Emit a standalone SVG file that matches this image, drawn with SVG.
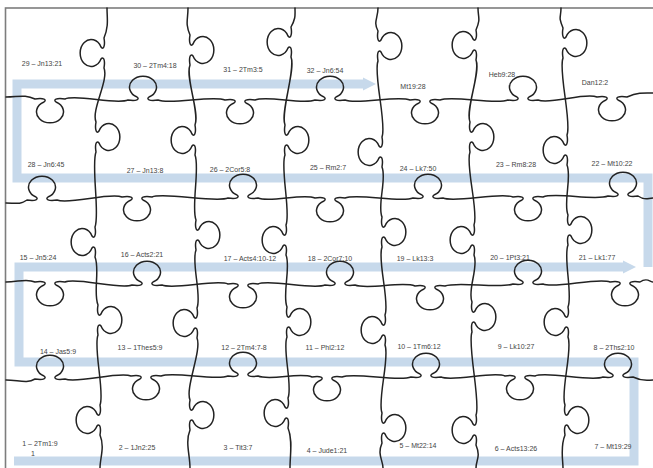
<svg xmlns="http://www.w3.org/2000/svg" width="653" height="468" viewBox="0 0 653 468">
<style>
.cut{fill:none;stroke:#222;stroke-width:1.5;stroke-linejoin:round;stroke-linecap:round}
.band{fill:none;stroke:#c7d9eb;stroke-width:9}
.lbl{font-family:"Liberation Sans",Arial,sans-serif;font-size:7px;fill:#444;text-anchor:middle}
</style>
<defs>
<marker id="ah" viewBox="0 0 10 10" refX="1" refY="5" markerWidth="1.5" markerHeight="1.9" orient="auto" markerUnits="strokeWidth">
<path d="M0,0 L10,5 L0,10 z" fill="#c7d9eb"/>
</marker>
</defs>
<rect width="653" height="468" fill="#ffffff"/>
<rect x="5.5" y="8" width="700" height="500" fill="none" stroke="#7d7d7d" stroke-width="1.6"/>
<g id="connectors">
<path class="band" d="M14,461 H634 V362 H19 V267 H624" marker-end="url(#ah)"/>
<path class="band" d="M648,267 V178 H17 V84 H364" marker-end="url(#ah)"/>
</g>
<g id="cuts">
<path class="cut" d="M6,97 C18,97 25,94 35,99 c9,-1.5 12,1 9,3 a13.5,11 0 1 0 12,0 c-3,-2 0,-4.5 9,-3 C77,94 116,105 128,100 c9,1.5 12,-1 9,-3 a13.5,11 0 1 1 12,0 c-3,2 0,4.5 9,3 C170,105 213,95 225,100 c9,-1.5 12,1 9,3 a13.5,11 0 1 0 12,0 c-3,-2 0,-4.5 9,-3 C267,95 303,105 315,100 c9,1.5 12,-1 9,-3 a13.5,11 0 1 1 12,0 c-3,2 0,4.5 9,3 C357,105 398,95 410,100 c9,-1.5 12,1 9,3 a13.5,11 0 1 0 12,0 c-3,-2 0,-4.5 9,-3 C452,95 496,105 508,100 c9,1.5 12,-1 9,-3 a13.5,11 0 1 1 12,0 c-3,2 0,4.5 9,3 C550,105 585,92 597,97 c9,-1.5 12,1 9,3 a13.5,11 0 1 0 12,0 c-3,-2 0,-4.5 9,-3 C639,92 645,93 653,93"/>
<path class="cut" d="M6,203 C15,203 20,205 27,200 c9,1.5 12,-1 9,-3 a13.5,11 0 1 1 12,0 c-3,2 0,4.5 9,3 C69,205 110,192 122,197 c9,-1.5 12,1 9,3 a13.5,11 0 1 0 12,0 c-3,-2 0,-4.5 9,-3 C164,192 216,203 228,198 c9,1.5 12,-1 9,-3 a13.5,11 0 1 1 12,0 c-3,2 0,4.5 9,3 C270,203 303,193 315,198 c9,-1.5 12,1 9,3 a13.5,11 0 1 0 12,0 c-3,-2 0,-4.5 9,-3 C357,193 401,203 413,198 c9,1.5 12,-1 9,-3 a13.5,11 0 1 1 12,0 c-3,2 0,4.5 9,3 C455,203 501,192 513,197 c9,-1.5 12,1 9,3 a13.5,11 0 1 0 12,0 c-3,-2 0,-4.5 9,-3 C555,192 596,201 608,196 c9,1.5 12,-1 9,-3 a13.5,11 0 1 1 12,0 c-3,2 0,4.5 9,3 C645,201 648,198 653,198"/>
<path class="cut" d="M6,282 C18,282 27,278 35,282 c9,-1.5 12,1 9,3 a13.5,11 0 1 0 12,0 c-3,-2 0,-4.5 9,-3 C77,277 120,290 132,285 c9,1.5 12,-1 9,-3 a13.5,11 0 1 1 12,0 c-3,2 0,4.5 9,3 C174,290 216,279 228,284 c9,-1.5 12,1 9,3 a13.5,11 0 1 0 12,0 c-3,-2 0,-4.5 9,-3 C270,279 313,290 325,285 c9,1.5 12,-1 9,-3 a13.5,11 0 1 1 12,0 c-3,2 0,4.5 9,3 C367,290 403,281 415,286 c9,-1.5 12,1 9,3 a13.5,11 0 1 0 12,0 c-3,-2 0,-4.5 9,-3 C457,281 501,289 513,284 c9,1.5 12,-1 9,-3 a13.5,11 0 1 1 12,0 c-3,2 0,4.5 9,3 C555,289 598,277 610,282 c9,-1.5 12,1 9,3 a13.5,11 0 1 0 12,0 c-3,-2 0,-4.5 9,-3 C647,277 650,282 653,282"/>
<path class="cut" d="M6,380 C18,380 27,384 35,379 c9,1.5 12,-1 9,-3 a13.5,11 0 1 1 12,0 c-3,2 0,4.5 9,3 C77,384 119,371 131,376 c9,-1.5 12,1 9,3 a13.5,11 0 1 0 12,0 c-3,-2 0,-4.5 9,-3 C173,371 216,381 228,376 c9,1.5 12,-1 9,-3 a13.5,11 0 1 1 12,0 c-3,2 0,4.5 9,3 C270,381 300,372 312,377 c9,-1.5 12,1 9,3 a13.5,11 0 1 0 12,0 c-3,-2 0,-4.5 9,-3 C354,372 399,382 411,377 c9,1.5 12,-1 9,-3 a13.5,11 0 1 1 12,0 c-3,2 0,4.5 9,3 C453,382 493,371 505,376 c9,-1.5 12,1 9,3 a13.5,11 0 1 0 12,0 c-3,-2 0,-4.5 9,-3 C547,371 591,382 603,377 c9,1.5 12,-1 9,-3 a13.5,11 0 1 1 12,0 c-3,2 0,4.5 9,3 C643,382 648,380 653,380"/>
<path class="cut" d="M107,8 C107,18 109,26 104,38 c1.5,9 -1,12 -3,9 a11,13.5 0 1 0 0,12 c2,-3 4.5,0 3,9 C109,80 91,110 96,122 c-1.5,9 1,12 3,9 a11,13.5 0 1 1 0,12 c-2,-3 -4.5,0 -3,9 C91,164 100,215 95,227 c1.5,9 -1,12 -3,9 a11,13.5 0 1 0 0,12 c2,-3 4.5,0 3,9 C100,269 93,293 98,305 c-1.5,9 1,12 3,9 a11,13.5 0 1 1 0,12 c-2,-3 -4.5,0 -3,9 C93,347 105,393 100,405 c1.5,9 -1,12 -3,9 a11,13.5 0 1 0 0,12 c2,-3 4.5,0 3,9 C105,447 100,458 100,468"/>
<path class="cut" d="M188,8 C188,20 185,23 190,35 c-1.5,9 1,12 3,9 a11,13.5 0 1 1 0,12 c-2,-3 -4.5,0 -3,9 C185,77 200,113 195,125 c1.5,9 -1,12 -3,9 a11,13.5 0 1 0 0,12 c2,-3 4.5,0 3,9 C200,167 191,208 196,220 c-1.5,9 1,12 3,9 a11,13.5 0 1 1 0,12 c-2,-3 -4.5,0 -3,9 C191,262 202,296 197,308 c1.5,9 -1,12 -3,9 a11,13.5 0 1 0 0,12 c2,-3 4.5,0 3,9 C202,350 185,388 190,400 c-1.5,9 1,12 3,9 a11,13.5 0 1 1 0,12 c-2,-3 -4.5,0 -3,9 C185,442 190,455 190,468"/>
<path class="cut" d="M295,8 C295,15 296,18 291,27 c1.5,9 -1,12 -3,9 a11,13.5 0 1 0 0,12 c2,-3 4.5,0 3,9 C296,69 280,113 285,125 c-1.5,9 1,12 3,9 a11,13.5 0 1 1 0,12 c-2,-3 -4.5,0 -3,9 C280,167 291,213 286,225 c1.5,9 -1,12 -3,9 a11,13.5 0 1 0 0,12 c2,-3 4.5,0 3,9 C291,267 282,295 287,307 c-1.5,9 1,12 3,9 a11,13.5 0 1 1 0,12 c-2,-3 -4.5,0 -3,9 C282,349 293,386 288,398 c1.5,9 -1,12 -3,9 a11,13.5 0 1 0 0,12 c2,-3 4.5,0 3,9 C293,440 290,455 290,468"/>
<path class="cut" d="M378,8 C378,18 373,22 378,31 c-1.5,9 1,12 3,9 a11,13.5 0 1 1 0,12 c-2,-3 -4.5,0 -3,9 C373,73 387,125 382,137 c1.5,9 -1,12 -3,9 a11,13.5 0 1 0 0,12 c2,-3 4.5,0 3,9 C387,179 377,205 382,217 c-1.5,9 1,12 3,9 a11,13.5 0 1 1 0,12 c-2,-3 -4.5,0 -3,9 C377,259 390,303 385,315 c1.5,9 -1,12 -3,9 a11,13.5 0 1 0 0,12 c2,-3 4.5,0 3,9 C390,357 377,401 382,413 c-1.5,9 1,12 3,9 a11,13.5 0 1 1 0,12 c-2,-3 -4.5,0 -3,9 C377,455 383,460 383,468"/>
<path class="cut" d="M478,8 C478,18 481,18 476,30 c1.5,9 -1,12 -3,9 a11,13.5 0 1 0 0,12 c2,-3 4.5,0 3,9 C481,72 465,110 470,122 c-1.5,9 1,12 3,9 a11,13.5 0 1 1 0,12 c-2,-3 -4.5,0 -3,9 C465,164 479,213 474,225 c1.5,9 -1,12 -3,9 a11,13.5 0 1 0 0,12 c2,-3 4.5,0 3,9 C479,267 467,290 472,302 c-1.5,9 1,12 3,9 a11,13.5 0 1 1 0,12 c-2,-3 -4.5,0 -3,9 C467,344 481,403 476,415 c1.5,9 -1,12 -3,9 a11,13.5 0 1 0 0,12 c2,-3 4.5,0 3,9 C481,457 476,460 476,468"/>
<path class="cut" d="M561,8 C561,18 558,16 563,28 c-1.5,9 1,12 3,9 a11,13.5 0 1 1 0,12 c-2,-3 -4.5,0 -3,9 C558,70 572,123 567,135 c1.5,9 -1,12 -3,9 a11,13.5 0 1 0 0,12 c2,-3 4.5,0 3,9 C572,177 563,203 568,215 c-1.5,9 1,12 3,9 a11,13.5 0 1 1 0,12 c-2,-3 -4.5,0 -3,9 C563,257 573,295 568,307 c1.5,9 -1,12 -3,9 a11,13.5 0 1 0 0,12 c2,-3 4.5,0 3,9 C573,349 560,393 565,405 c-1.5,9 1,12 3,9 a11,13.5 0 1 1 0,12 c-2,-3 -4.5,0 -3,9 C560,447 563,460 563,468"/>
</g>
<g id="labels">
<g id="p29"><text class="lbl" x="42" y="66">29 – Jn13:21</text></g>
<g id="p30"><text class="lbl" x="155" y="68">30 – 2Tm4:18</text></g>
<g id="p31"><text class="lbl" x="243" y="72">31 – 2Tm3:5</text></g>
<g id="p32"><text class="lbl" x="325" y="73">32 – Jn6:54</text></g>
<g id="p33"><text class="lbl" x="413" y="89">Mt19:28</text></g>
<g id="p34"><text class="lbl" x="502" y="77">Heb9:28</text></g>
<g id="p35"><text class="lbl" x="595" y="85">Dan12:2</text></g>
<g id="p28"><text class="lbl" x="46" y="167">28 – Jn6:45</text></g>
<g id="p27"><text class="lbl" x="145" y="173">27 – Jn13:8</text></g>
<g id="p26"><text class="lbl" x="230" y="172">26 – 2Cor5:8</text></g>
<g id="p25"><text class="lbl" x="328" y="170">25 – Rm2:7</text></g>
<g id="p24"><text class="lbl" x="418" y="171">24 – Lk7:50</text></g>
<g id="p23"><text class="lbl" x="516" y="167">23 – Rm8:28</text></g>
<g id="p22"><text class="lbl" x="612" y="166">22 – Mt10:22</text></g>
<g id="p15"><text class="lbl" x="38" y="260">15 – Jn5:24</text></g>
<g id="p16"><text class="lbl" x="142" y="257">16 – Acts2:21</text></g>
<g id="p17"><text class="lbl" x="250" y="261">17 – Acts4:10-12</text></g>
<g id="p18"><text class="lbl" x="330" y="261">18 – 2Cor7:10</text></g>
<g id="p19"><text class="lbl" x="415" y="261">19 – Lk13:3</text></g>
<g id="p20"><text class="lbl" x="510" y="260">20 – 1Pt3:21</text></g>
<g id="p21"><text class="lbl" x="597" y="260">21 – Lk1:77</text></g>
<g id="p14"><text class="lbl" x="58" y="354">14 – Jas5:9</text></g>
<g id="p13"><text class="lbl" x="140" y="350">13 – 1Thes5:9</text></g>
<g id="p12"><text class="lbl" x="244" y="350">12 – 2Tm4:7-8</text></g>
<g id="p11"><text class="lbl" x="325" y="350">11 – Phl2:12</text></g>
<g id="p10"><text class="lbl" x="419" y="349">10 – 1Tm6:12</text></g>
<g id="p9"><text class="lbl" x="516" y="349">9 – Lk10:27</text></g>
<g id="p8"><text class="lbl" x="614" y="350">8 – 2Ths2:10</text></g>
<g id="p1"><text class="lbl" x="40" y="446">1 – 2Tm1:9</text><text class="lbl" x="33" y="456">1</text></g>
<g id="p2"><text class="lbl" x="137" y="450">2 – 1Jn2:25</text></g>
<g id="p3"><text class="lbl" x="238" y="450">3 – Tit3:7</text></g>
<g id="p4"><text class="lbl" x="327" y="453">4 – Jude1:21</text></g>
<g id="p5"><text class="lbl" x="418" y="448">5 – Mt22:14</text></g>
<g id="p6"><text class="lbl" x="516" y="451">6 – Acts13:26</text></g>
<g id="p7"><text class="lbl" x="613" y="449">7 – Mt19:29</text></g>
</g>
</svg>
